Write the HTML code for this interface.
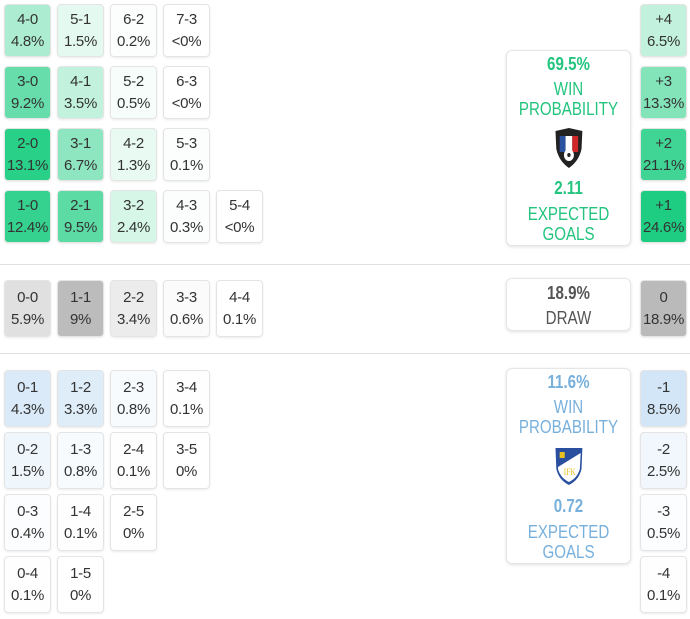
<!DOCTYPE html>
<html><head><meta charset="utf-8"><style>
body{margin:0;width:690px;height:619px;background:#fff;position:relative;overflow:hidden;font-family:"Liberation Sans",sans-serif;color:#333;}
.c{position:absolute;width:47px;border:1px solid #e4e4e4;border-radius:4px;box-sizing:border-box;text-align:center;font-size:15px;line-height:22px;box-shadow:0 1px 2px rgba(0,0,0,.08);letter-spacing:-0.3px}
.h{height:53px;padding-top:4px}
.a{height:57px;padding-top:6px}
.g{background:rgba(30,205,130,var(--a))}
.k{background:rgba(160,160,160,var(--a))}
.b{background:rgba(150,195,235,var(--a))}
.box{position:absolute;left:506px;width:125px;border:1px solid #e6e6e6;border-radius:6px;box-sizing:border-box;text-align:center;font-size:18px;line-height:20px;box-shadow:0 1px 3px rgba(0,0,0,.12);background:#fff}
.in{transform:scaleX(.84);transform-origin:center top;margin:0 -20px}
.sep{position:absolute;left:0;width:690px;height:1px;background:#e0e0e0}
b{font-weight:bold}
</style></head><body>
<div class="c h g" style="left:4px;top:4px;--a:.37">4-0<br>4.8%</div>
<div class="c h g" style="left:57px;top:4px;--a:.12">5-1<br>1.5%</div>
<div class="c h g" style="left:110px;top:4px;--a:.02">6-2<br>0.2%</div>
<div class="c h g" style="left:163px;top:4px;--a:0">7-3<br>&lt;0%</div>
<div class="c h g" style="left:4px;top:66px;--a:.68">3-0<br>9.2%</div>
<div class="c h g" style="left:57px;top:66px;--a:.27">4-1<br>3.5%</div>
<div class="c h g" style="left:110px;top:66px;--a:.04">5-2<br>0.5%</div>
<div class="c h g" style="left:163px;top:66px;--a:0">6-3<br>&lt;0%</div>
<div class="c h g" style="left:4px;top:128px;--a:.95">2-0<br>13.1%</div>
<div class="c h g" style="left:57px;top:128px;--a:.5">3-1<br>6.7%</div>
<div class="c h g" style="left:110px;top:128px;--a:.1">4-2<br>1.3%</div>
<div class="c h g" style="left:163px;top:128px;--a:.01">5-3<br>0.1%</div>
<div class="c h g" style="left:4px;top:190px;--a:.9">1-0<br>12.4%</div>
<div class="c h g" style="left:57px;top:190px;--a:.72">2-1<br>9.5%</div>
<div class="c h g" style="left:110px;top:190px;--a:.18">3-2<br>2.4%</div>
<div class="c h g" style="left:163px;top:190px;--a:.02">4-3<br>0.3%</div>
<div class="c h g" style="left:216px;top:190px;--a:0">5-4<br>&lt;0%</div>

<div class="c h g" style="left:640px;top:4px;--a:.27">+4<br>6.5%</div>
<div class="c h g" style="left:640px;top:66px;--a:.55">+3<br>13.3%</div>
<div class="c h g" style="left:640px;top:128px;--a:.85">+2<br>21.1%</div>
<div class="c h g" style="left:640px;top:190px;--a:1">+1<br>24.6%</div>

<div class="box" style="top:50px;height:196px;color:#22c47e;padding-top:3px"><div class="in">
<b>69.5%</b><br><div style="margin-top:5px">WIN<br>PROBABILITY</div>
<svg width="40" height="44" viewBox="0 0 40 42" style="margin-top:7px"><path d="M4 4 L20 1 L36 4 L35 22 Q32 34 20 41 Q8 34 5 22 Z" fill="#222"/><path d="M9 9h7v16H9z" fill="#2a50a0"/><path d="M16 9h8v16h-8z" fill="#fff"/><path d="M24 9h7v16h-7z" fill="#d02828"/><circle cx="20" cy="28" r="6" fill="#fff"/><circle cx="20" cy="28" r="2" fill="#222"/></svg>
<div style="margin-top:4px"><b>2.11</b></div><div style="margin-top:6px">EXPECTED<br>GOALS</div></div></div>

<div class="sep" style="top:264px"></div>

<div class="c a k" style="left:4px;top:280px;--a:.32">0-0<br>5.9%</div>
<div class="c a k" style="left:57px;top:280px;--a:.7">1-1<br>9%</div>
<div class="c a k" style="left:110px;top:280px;--a:.2">2-2<br>3.4%</div>
<div class="c a k" style="left:163px;top:280px;--a:.04">3-3<br>0.6%</div>
<div class="c a k" style="left:216px;top:280px;--a:0">4-4<br>0.1%</div>
<div class="c a k" style="left:640px;top:280px;--a:.72">0<br>18.9%</div>
<div class="box" style="top:278px;height:53px;color:#555;padding-top:4px"><div class="in"><b>18.9%</b><br><div style="margin-top:5px">DRAW</div></div></div>

<div class="sep" style="top:353px"></div>

<div class="c a b" style="left:4px;top:370px;--a:.35">0-1<br>4.3%</div>
<div class="c a b" style="left:57px;top:370px;--a:.3">1-2<br>3.3%</div>
<div class="c a b" style="left:110px;top:370px;--a:.07">2-3<br>0.8%</div>
<div class="c a b" style="left:163px;top:370px;--a:.01">3-4<br>0.1%</div>
<div class="c a b" style="left:4px;top:432px;--a:.14">0-2<br>1.5%</div>
<div class="c a b" style="left:57px;top:432px;--a:.07">1-3<br>0.8%</div>
<div class="c a b" style="left:110px;top:432px;--a:.01">2-4<br>0.1%</div>
<div class="c a b" style="left:163px;top:432px;--a:0">3-5<br>0%</div>
<div class="c a b" style="left:4px;top:494px;--a:.03">0-3<br>0.4%</div>
<div class="c a b" style="left:57px;top:494px;--a:.01">1-4<br>0.1%</div>
<div class="c a b" style="left:110px;top:494px;--a:0">2-5<br>0%</div>
<div class="c a b" style="left:4px;top:556px;--a:.01">0-4<br>0.1%</div>
<div class="c a b" style="left:57px;top:556px;--a:0">1-5<br>0%</div>

<div class="c a b" style="left:640px;top:370px;--a:.42">-1<br>8.5%</div>
<div class="c a b" style="left:640px;top:432px;--a:.13">-2<br>2.5%</div>
<div class="c a b" style="left:640px;top:494px;--a:.03">-3<br>0.5%</div>
<div class="c a b" style="left:640px;top:556px;--a:.01">-4<br>0.1%</div>

<div class="box" style="top:368px;height:196px;color:#78b0dc;padding-top:3px"><div class="in">
<b>11.6%</b><br><div style="margin-top:5px">WIN<br>PROBABILITY</div>
<svg width="40" height="44" viewBox="0 0 40 42" style="margin-top:7px"><path d="M4 3 L36 3 L35 24 Q32 35 20 40 Q8 35 5 24 Z" fill="#2a4f9e"/><path d="M7 22 L34 8 L33 24 Q30 33 20 37 Q10 33 7 24 Z" fill="#fff"/><text x="21" y="30" font-size="9" fill="#e8c020" text-anchor="middle" font-family="Liberation Serif,serif">IFK</text><rect x="9" y="7" width="6" height="6" fill="#e8c020"/></svg>
<div style="margin-top:4px"><b>0.72</b></div><div style="margin-top:6px">EXPECTED<br>GOALS</div></div></div>
</body></html>
